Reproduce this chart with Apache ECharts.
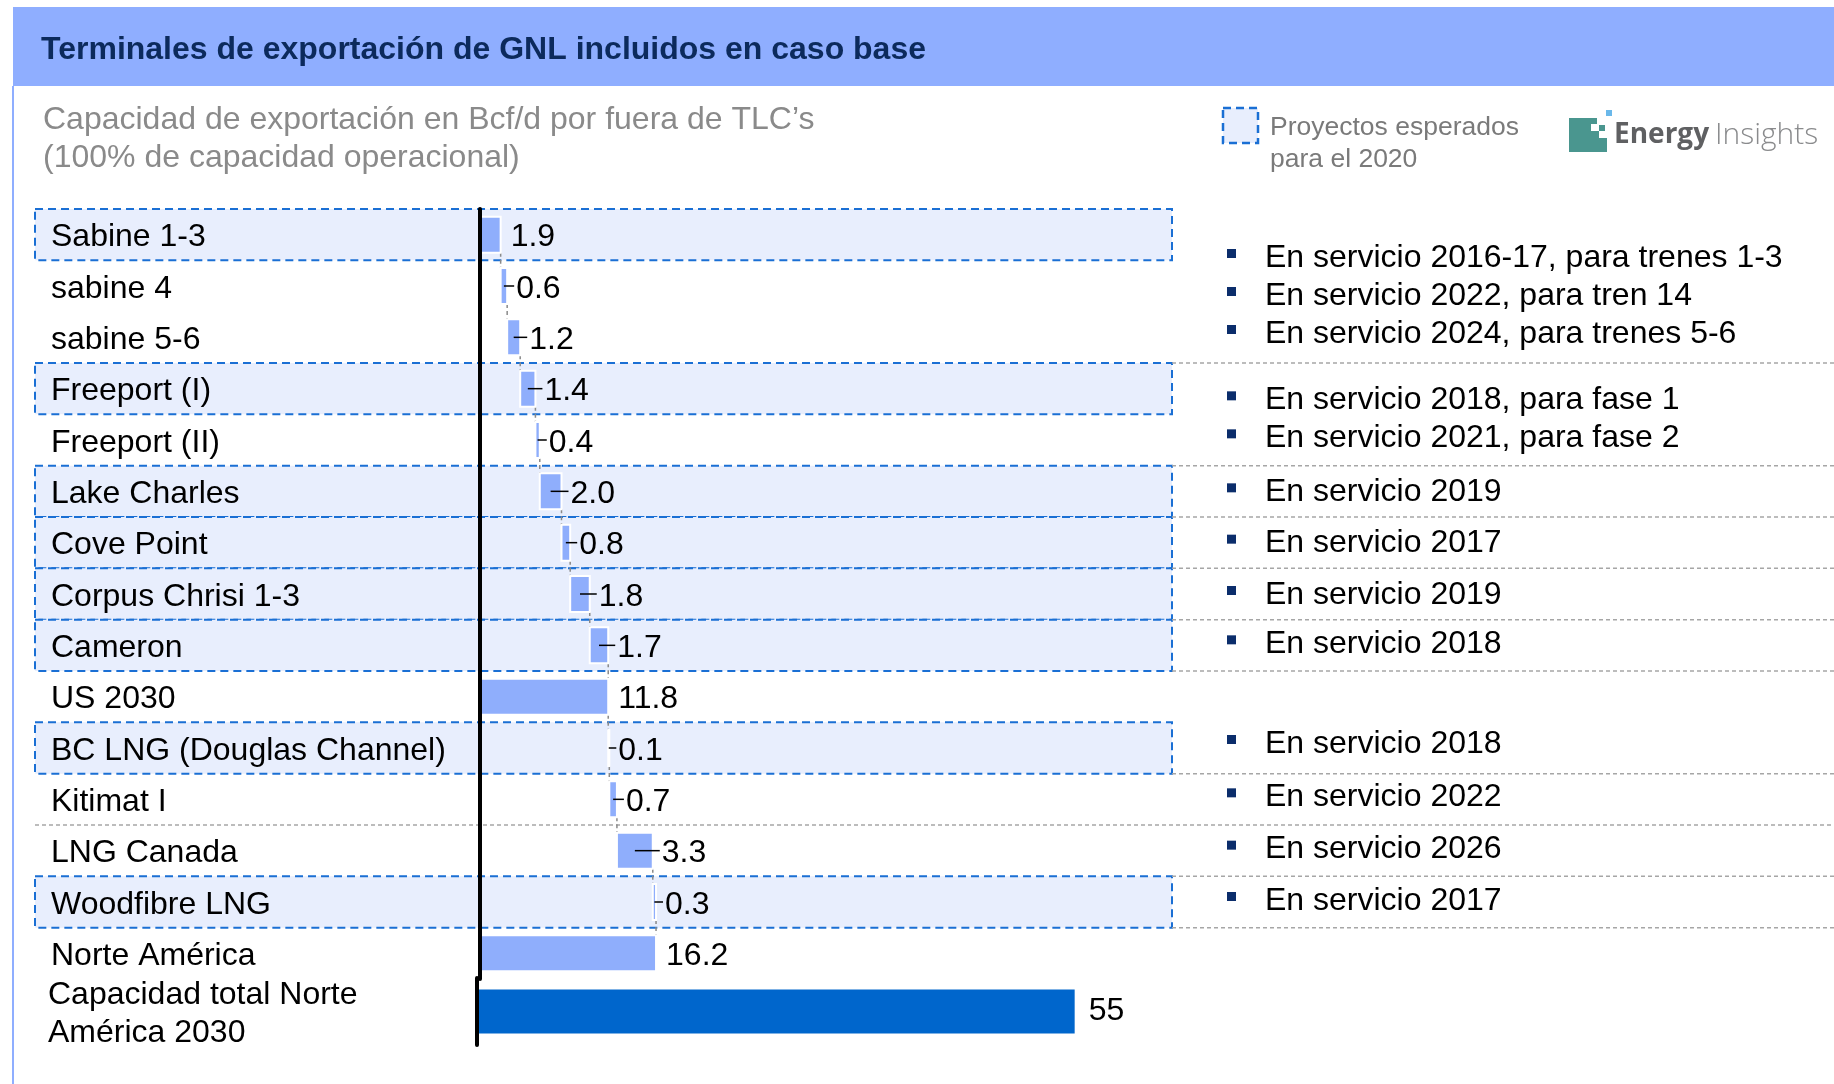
<!DOCTYPE html>
<html><head><meta charset="utf-8">
<script src="https://cdn.jsdelivr.net/npm/echarts@6/dist/echarts.min.js"></script>
<style>html,body{margin:0;padding:0;background:#fff}#c{width:1834px;height:1084px}</style>
</head><body><div id="c"></div>
<script>
// ---------- DATA ----------
const categories = ['Sabine 1-3','sabine 4','sabine 5-6','Freeport (I)','Freeport (II)','Lake Charles','Cove Point','Corpus Chrisi 1-3','Cameron','US 2030','BC LNG (Douglas Channel)','Kitimat I','LNG Canada','Woodfibre LNG','Norte América'];
const values = [1.9,0.6,1.2,1.4,0.4,2.0,0.8,1.8,1.7,11.8,0.1,0.7,3.3,0.3,16.2];
const isSubtotal = [false,false,false,false,false,false,false,false,false,true,false,false,false,false,true];
const expected2020 = [true,false,false,true,false,true,true,true,true,false,true,false,false,true,false];
const totalCategory = ['Capacidad total Norte\nAmérica 2030'];
const totalValues = [55];
const noteGroups = [
  {rows:[0,2], lines:['En servicio 2016-17, para trenes 1-3','En servicio 2022, para tren 14','En servicio 2024, para trenes 5-6']},
  {rows:[3,4], lines:['En servicio 2018, para fase 1','En servicio 2021, para fase 2']},
  {rows:[5,5], lines:['En servicio 2019']},
  {rows:[6,6], lines:['En servicio 2017']},
  {rows:[7,7], lines:['En servicio 2019']},
  {rows:[8,8], lines:['En servicio 2018']},
  {rows:[10,10], lines:['En servicio 2018']},
  {rows:[11,11], lines:['En servicio 2022']},
  {rows:[12,12], lines:['En servicio 2026']},
  {rows:[13,13], lines:['En servicio 2017']}
];
const titleText = 'Terminales de exportación de GNL incluidos en caso base';
const subtitleLines = ['Capacidad de exportación en Bcf/d por fuera de TLC’s','(100% de capacidad operacional)'];
const legendLines = ['Proyectos esperados','para el 2020'];

// ---------- WATERFALL BUILD ----------
const wfData = [];
let running = 0;
values.forEach((v,i)=>{
  let s, e;
  if(isSubtotal[i]){ s = 0; e = v; running = v; }
  else { s = running; e = running + v; running = e; }
  wfData.push([s, e, i, v, (!isSubtotal[i] && s > 0) ? 1 : 0]);
});

// ---------- LAYOUT ----------
const FONT = '"Liberation Sans", Arial, Helvetica, sans-serif';
const FS = 32;
const gridTop = 209, gridH = 770, bandH = gridH / categories.length;
const rowTop = i => gridTop + i*bandH;
const boxL = 35, boxR = 1172;
const labelX = 51;
const noteShift = [9, 4, 0, 0, 0, -2, -5, -3, -2, -2]; // layout tweak per note group (px)

const graphics = [];
// header
graphics.push({type:'rect', z:0, shape:{x:13,y:7,width:1821,height:79}, style:{fill:'#8faeff'}});
graphics.push({type:'line', z:0, shape:{x1:13,y1:86,x2:13,y2:1084}, style:{stroke:'#8faeff', lineWidth:2}});
graphics.push({type:'text', z:10, x:41, y:50, style:{text:titleText, fill:'#0c2a5c', font:'bold 32px '+FONT, verticalAlign:'middle'}});
// subtitle
subtitleLines.forEach((t,k)=>graphics.push({type:'text', z:10, x:43, y:120+k*38, style:{text:t, fill:'#8a8a8a', font:FS+'px '+FONT, verticalAlign:'middle'}}));
// legend
graphics.push({type:'rect', z:5, shape:{x:1223,y:108,width:35,height:35}, style:{fill:'#e8eefd', stroke:'#1a6fd4', lineWidth:2.5, lineDash:[8,5]}});
legendLines.forEach((t,k)=>graphics.push({type:'text', z:10, x:1270, y:128+k*32, style:{text:t, fill:'#7a7a7a', font:'26.5px '+FONT, verticalAlign:'middle'}}));
// logo
graphics.push({type:'rect', z:5, shape:{x:1569,y:118,width:22,height:34}, style:{fill:'#4a968f'}});
graphics.push({type:'rect', z:5, shape:{x:1591,y:118,width:6,height:6}, style:{fill:'#4a968f'}});
graphics.push({type:'rect', z:5, shape:{x:1591,y:131,width:8,height:21}, style:{fill:'#4a968f'}});
graphics.push({type:'rect', z:5, shape:{x:1599,y:125,width:6,height:6}, style:{fill:'#4a968f'}});
graphics.push({type:'rect', z:5, shape:{x:1599,y:138,width:8,height:14}, style:{fill:'#4a968f'}});
graphics.push({type:'rect', z:5, shape:{x:1606,y:110,width:6,height:6}, style:{fill:'#6ab8ea'}});
graphics.push({type:'text', z:10, x:1614, y:135, style:{text:'Energy', fill:'#5f6062', font:'bold 28px "Open Sans", sans-serif', verticalAlign:'middle'}});
graphics.push({type:'text', z:10, x:1715, y:135, style:{text:'Insights', fill:'#8a8b8d', font:'300 30px "Open Sans", sans-serif', verticalAlign:'middle'}});

// highlight boxes
expected2020.forEach((ex,i)=>{
  if(!ex) return;
  graphics.push({type:'rect', z:0, shape:{x:boxL,y:rowTop(i),width:boxR-boxL,height:bandH}, style:{fill:'#e8eefd', stroke:'#1a6fd4', lineWidth:2, lineDash:[8,5]}});
});
// notes & separators
noteGroups.forEach((g,gi)=>{
  const r0 = g.rows[0], r1 = g.rows[1];
  const cy = (rowTop(r0) + rowTop(r1+1)) / 2 + noteShift[gi];
  const n = g.lines.length;
  g.lines.forEach((t,k)=>{
    const y = cy + (k - (n-1)/2) * 38;
    graphics.push({type:'rect', z:10, shape:{x:1227,y:y-8,width:9,height:9}, style:{fill:'#0b2d6b'}});
    graphics.push({type:'text', z:10, x:1265, y:y+1, style:{text:t, fill:'#000', font:FS+'px '+FONT, verticalAlign:'middle'}});
  });
  const sepY = rowTop(r1+1);
  const nb = r1+1 < categories.length ? expected2020[r1+1] : false;
  const x1 = (expected2020[r1] || nb) ? boxR : boxL;
  graphics.push({type:'line', z:1, shape:{x1:x1,y1:sepY,x2:1834,y2:sepY}, style:{stroke:'#a6a6a6', lineWidth:1.5, lineDash:[4,3]}});
});

// ---------- CHART ----------
const chart = echarts.init(document.getElementById('c'), null, {renderer:'canvas'});
chart.setOption({
  animation:false,
  backgroundColor:'#fff',
  grid:[
    {left:480, top:gridTop, width:652, height:gridH},
    {left:477, top:978, width:652, height:67}
  ],
  xAxis:[
    {gridIndex:0, type:'value', min:0, max:60, show:false},
    {gridIndex:1, type:'value', min:0, max:60, show:false}
  ],
  yAxis:[
    {gridIndex:0, type:'category', data:categories, inverse:true, z:8,
     axisLine:{show:true, lineStyle:{color:'#000', width:4}}, axisTick:{show:false}, splitLine:{show:false},
     axisLabel:{show:false}},
    {gridIndex:1, type:'category', data:totalCategory, z:8,
     axisLine:{show:true, lineStyle:{color:'#000', width:4, cap:'round'}}, axisTick:{show:false},
     axisLabel:{show:false}}
  ],
  graphic:{elements:graphics},
  series:[
    {
      type:'custom', xAxisIndex:0, yAxisIndex:0, z:4, clip:false,
      data:wfData,
      encode:{x:[0,1], y:2},
      renderItem:function(params, api){
        const s=api.value(0), e=api.value(1), i=api.value(2), v=api.value(3), fl=api.value(4);
        const p0=api.coord([s,i]), p1=api.coord([e,i]);
        const h=36, cy=p0[1];
        const ch=[];
        // category label
        ch.push({type:'text', x:labelX, y:cy+3, style:{text:categories[i], fill:'#000', font:FS+'px '+FONT, align:'left', verticalAlign:'middle'}});
        if(i < categories.length-1){
          const q=api.coord([e,i+1]);
          ch.push({type:'line', shape:{x1:p1[0],y1:cy+h/2,x2:p1[0],y2:q[1]-h/2}, style:{stroke:'#8a8a8a', lineWidth:1.5, lineDash:[4,3]}});
        }
        ch.push({type:'rect', shape:{x:p0[0], y:cy-h/2, width:Math.max(p1[0]-p0[0],1), height:h}, style:{fill:'#8faefc', stroke:'#fff', lineWidth:2}});
        if(fl){
          const mx=(p0[0]+p1[0])/2;
          ch.push({type:'line', shape:{x1:mx,y1:cy,x2:p1[0]+7,y2:cy}, style:{stroke:'#000', lineWidth:1.5}});
        }
        const lx = fl ? p1[0]+9 : p1[0]+10;
        ch.push({type:'text', x:lx, y:cy+3, style:{text:v.toFixed(1), fill:'#000', font:FS+'px '+FONT, align:'left', verticalAlign:'middle'}});
        return {type:'group', children:ch};
      }
    },
    {
      type:'bar', xAxisIndex:1, yAxisIndex:1, z:4,
      data:totalValues, barWidth:44,
      itemStyle:{color:'#0066cc'},
      label:{show:true, position:'right', distance:14, color:'#000', fontSize:FS, fontFamily:FONT}
    },
    {
      type:'custom', xAxisIndex:1, yAxisIndex:1, z:4, clip:false,
      data:totalCategory.map((c,i)=>[0,i]),
      encode:{x:0, y:1},
      renderItem:function(params, api){
        const p=api.coord([0, api.value(1)]);
        return {type:'text', x:48, y:p[1]+3, style:{text:totalCategory[api.value(1)], fill:'#000', font:FS+'px '+FONT, align:'left', verticalAlign:'middle', lineHeight:38}};
      }
    }
  ]
});
</script></body></html>
